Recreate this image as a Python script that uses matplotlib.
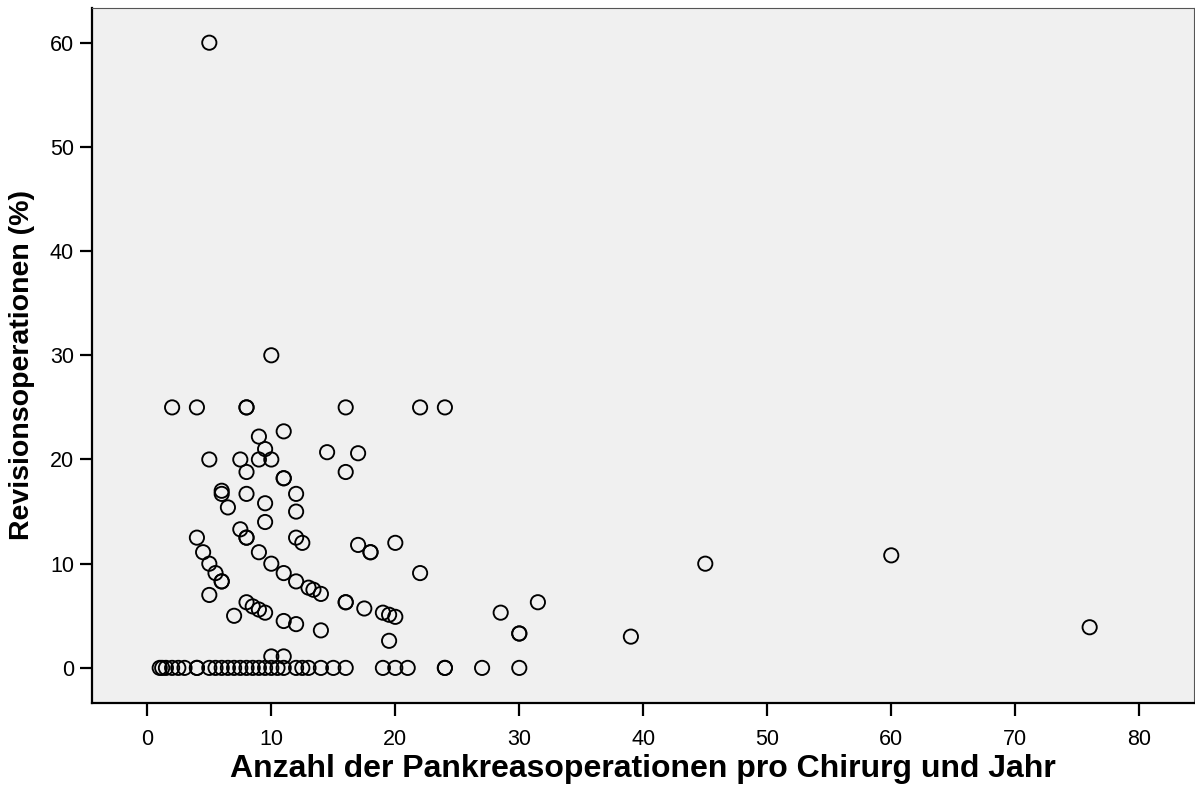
import matplotlib.pyplot as plt

# Operations per surgeon and year vs. share of revision operations (%)
ops_per_year = [
    5, 10,
    2, 4, 8, 8, 16, 22, 24,
    11, 9, 9.5, 14.5, 17,
    5, 7.5, 9, 10,
    8, 11, 11, 16,
    6, 6, 8, 12, 6.5, 9.5, 12, 9.5,
    7.5, 4, 8, 8, 12, 12.5, 4.5, 9, 17, 18, 18, 20,
    5, 10, 5.5, 11, 22, 6, 6, 12, 13, 13.4, 14, 5,
    8, 8.5, 9, 9.5, 7, 16, 16, 17.5, 19, 19.5, 20, 11, 12, 14, 19.5,
    10, 11,
    45, 60, 39, 76, 28.5, 31.5, 30, 30,
    1, 1.2, 1.5, 2, 2.5, 3, 4, 4, 5, 5.5, 6, 6.5, 7, 7.5, 8, 8.5, 9, 9.5, 10,
    10.5, 11, 12, 12.5, 13, 14, 15, 16, 19, 20, 21, 24, 24, 27, 30,
]
revision_pct = [
    60, 30,
    25, 25, 25, 25, 25, 25, 25,
    22.7, 22.2, 21.0, 20.7, 20.6,
    20, 20, 20, 20,
    18.8, 18.2, 18.2, 18.8,
    17.0, 16.7, 16.7, 16.7, 15.4, 15.8, 15.0, 14.0,
    13.3, 12.5, 12.5, 12.5, 12.5, 12.0, 11.1, 11.1, 11.8, 11.1, 11.1, 12.0,
    10.0, 10.0, 9.1, 9.1, 9.1, 8.3, 8.3, 8.3, 7.7, 7.5, 7.1, 7.0,
    6.3, 5.9, 5.6, 5.3, 5.0, 6.3, 6.3, 5.7, 5.3, 5.1, 4.9, 4.5, 4.2, 3.6, 2.6,
    1.1, 1.1,
    10.0, 10.8, 3.0, 3.9, 5.3, 6.3, 3.3, 3.3,
    0, 0, 0, 0, 0, 0, 0, 0, 0, 0, 0, 0, 0, 0, 0, 0, 0, 0, 0,
    0, 0, 0, 0, 0, 0, 0, 0, 0, 0, 0, 0, 0, 0, 0,
]

x_ticks = [0, 10, 20, 30, 40, 50, 60, 70, 80]
y_ticks = [0, 10, 20, 30, 40, 50, 60]

plt.rcParams['font.family'] = ['Liberation Sans', 'DejaVu Sans']

fig = plt.figure(figsize=(11.95, 7.92), dpi=100)
ax = fig.add_axes([0.077, 0.1125, 0.922, 0.877])
ax.set_facecolor('#f0f0f0')

ax.scatter(ops_per_year, revision_pct, s=105, facecolors='none',
           edgecolors='black', linewidths=1.35, zorder=3)

ax.set_xlim(-4.46, 84.4)
ax.set_ylim(-3.36, 63.3)
ax.set_xticks(x_ticks)
ax.set_yticks(y_ticks)
ax.tick_params(axis='both', direction='out', length=9, width=1.6,
               labelsize=15.5, color='black')
ax.tick_params(axis='x', pad=10)
ax.tick_params(axis='y', pad=4)

for side in ('left', 'bottom'):
    ax.spines[side].set_linewidth(1.6)
    ax.spines[side].set_color('black')
for side in ('top', 'right'):
    ax.spines[side].set_linewidth(0.8)
    ax.spines[side].set_color('#555555')

ax.set_xlabel('Anzahl der Pankreasoperationen pro Chirurg und Jahr',
              fontsize=23, fontweight='bold', labelpad=3)
ax.set_ylabel('Revisionsoperationen (%)', fontsize=20.5, fontweight='bold')
ax.yaxis.set_label_coords(-0.052, 0.486)

fig.savefig('out.png', dpi=100)
